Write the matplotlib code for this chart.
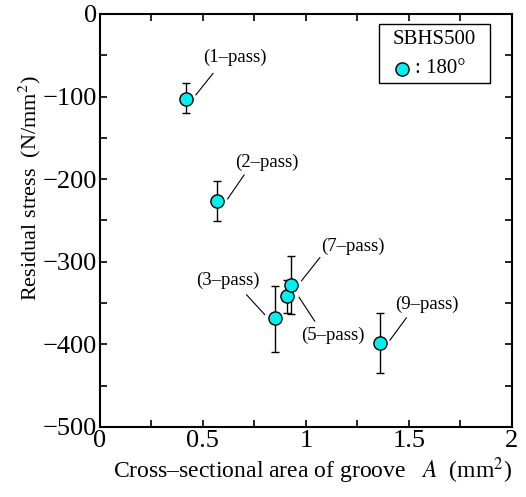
import numpy as np
import matplotlib
matplotlib.use('Agg')
import matplotlib.pyplot as plt
from matplotlib.patches import Rectangle

plt.rcParams['font.family'] = 'Liberation Serif'
plt.rcParams['mathtext.fontset'] = 'stix'

# Data
passes = ['(1\u2013pass)', '(2\u2013pass)', '(3\u2013pass)', '(5\u2013pass)', '(7\u2013pass)', '(9\u2013pass)']
area = [0.42, 0.57, 0.85, 0.91, 0.93, 1.36]
stress = [-103, -226, -368, -342, -328, -398]
err_lower = [17, 25, 41, 20, 35, 37]
err_upper = [19, 24, 39, 20, 35, 36]

# label layout: text centre, leader line start/end (data coords)
label_xy = [(0.655, -53), (0.81, -180), (0.62, -323), (1.13, -389), (1.23, -281), (1.59, -351)]
leader = [((0.466, -98), (0.549, -72)),
          ((0.62, -224), (0.70, -195)),
          ((0.712, -340), (0.80, -364)),
          ((0.967, -343), (1.043, -372)),
          ((0.979, -323), (1.068, -295)),
          ((1.408, -395), (1.488, -368))]

face = '#00f0f0'

fig = plt.figure(figsize=(5.26, 4.97), dpi=100)
ax = fig.add_axes([0.190, 0.141, 0.783, 0.831])

ax.errorbar(area, stress, yerr=[err_lower, err_upper], fmt='none',
            ecolor='black', elinewidth=1.0, capsize=3, capthick=1.0, zorder=2)
ax.plot(area, stress, 'o', ms=9.5, mfc=face, mec='black', mew=1.0, zorder=3)

for txt, (tx, ty), (p0, p1) in zip(passes, label_xy, leader):
    ax.text(tx, ty, txt, ha='center', va='center', fontsize=13.5)
    ax.plot([p0[0], p1[0]], [p0[1], p1[1]], color='black', lw=0.8)

ax.set_xlim(0, 2)
ax.set_ylim(-500, 0)
ax.set_xticks([0, 0.5, 1, 1.5, 2])
ax.set_xticklabels(['0', '0.5', '1', '1.5', '2'])
ax.set_xticks(np.arange(0, 2.01, 0.25), minor=True)
ax.set_yticks(np.arange(-500, 1, 100))
ax.set_yticklabels(['\u2212500', '\u2212400', '\u2212300', '\u2212200', '\u2212100', '0'])
ax.set_yticks(np.arange(-500, 1, 50), minor=True)
ax.tick_params(which='both', direction='in', top=True, right=True,
               length=5, width=1.2, labelsize=19, pad=2)
for sp in ax.spines.values():
    sp.set_linewidth(1.5)

ax.set_xlabel('Cross\u2013sectional area of groove   $A$  (mm$^2$)', fontsize=17)
ax.set_ylabel('Residual stress  (N/mm$^2$)', fontsize=16)
ax.xaxis.set_label_coords(0.516, -0.068)
ax.yaxis.set_label_coords(-0.138, 0.579)

# legend box drawn by hand
ax.add_patch(Rectangle((0.677, 0.833), 0.270, 0.143, transform=ax.transAxes,
                       facecolor='white', edgecolor='black', lw=1.0, zorder=4))
ax.text(0.812, 0.937, 'SBHS500', transform=ax.transAxes, ha='center', va='center',
        fontsize=15, zorder=5)
ax.plot([0.733], [0.867], 'o', transform=ax.transAxes, ms=9.5, mfc=face,
        mec='black', mew=1.0, zorder=5, clip_on=False)
ax.text(0.764, 0.867, ': 180\u00b0', transform=ax.transAxes, ha='left', va='center',
        fontsize=15, zorder=5)

fig.savefig('out.png', dpi=100)
